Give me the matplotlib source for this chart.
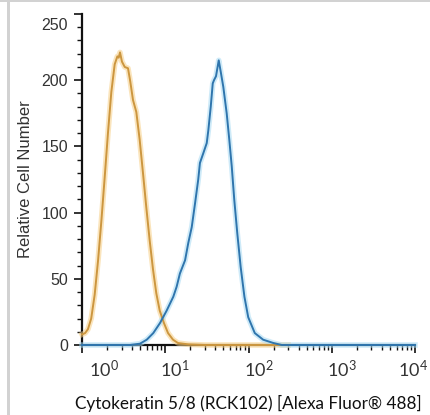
import numpy as np
import matplotlib
matplotlib.use("Agg")
import matplotlib.pyplot as plt
from matplotlib.ticker import FixedLocator, NullFormatter, FuncFormatter, LogLocator
from matplotlib.patches import Rectangle

# ---- data ----
orange_x = [1.00, 1.09, 1.18, 1.29, 1.42, 1.56, 1.71, 1.87, 2.05, 2.25, 2.47, 2.66, 2.76,
            2.86, 3.02, 3.26, 3.57, 3.80, 4.10, 4.49, 4.93, 5.40, 5.92, 6.50, 7.13, 7.81,
            8.58, 9.66, 10.8, 12.4, 14.2, 18.8, 30.0, 100.0, 300.0]
orange_y = [8, 9, 12, 20, 38, 64, 94, 126, 160, 191, 212, 218, 217,
            221, 214, 210, 209, 199, 185, 176, 155, 130, 104, 79, 57, 39,
            26, 16.5, 9, 4, 1.5, 0.5, 0, 0, 0]

blue_x = [1.0, 3.77, 4.33, 4.97, 5.99, 7.18, 8.65, 10.4, 12.5, 13.7, 15.0, 17.3, 18.9,
          20.8, 22.8, 24.9, 26.1, 28.7, 31.5, 32.9, 35.2, 37.2, 38.5, 40.7, 43.9, 46.5,
          49.8, 54.7, 58.8, 62.9, 67.5, 73.3, 80.5, 89.3, 99.2, 119.0, 150.0, 199.0,
          251.0, 10000.0]
blue_y = [0, 0, 0.5, 1, 4, 9, 16.6, 26, 36.5, 44, 54, 64, 77,
          89, 107, 125, 137.5, 145, 152.5, 162, 180, 197.6, 200, 203, 215, 206,
          195, 175, 155, 135, 109.5, 84.5, 59, 36.5, 21, 9, 4, 1.5,
          0, 0]

y_major = [0, 50, 100, 150, 200, 250]
y_minor = list(range(0, 251, 10))
x_major = [1, 10, 100, 1000, 10000]
x_labels = ["$10^{0}$", "$10^{1}$", "$10^{2}$", "$10^{3}$", "$10^{4}$"]
x_label_dx = [7, -5, -5, -5, -17]   # label nudges in pixels

xlabel = "Cytokeratin 5/8 (RCK102) [Alexa Fluor® 488]"
ylabel = "Relative Cell Number"

# ---- style ----
plt.rcParams['font.family'] = ['Lato', 'DejaVu Sans']
plt.rcParams['mathtext.default'] = 'regular'

DPI = 100
PT = 0.72  # points per pixel at 100 dpi
fig = plt.figure(figsize=(4.3, 4.15), dpi=DPI)
W, H = 430, 415

# light gray frame lines of the screenshot
fig.patches.append(Rectangle((0, 1 - 2.5 / H), 1, 2.5 / H, transform=fig.transFigure,
                             facecolor='#d2d2d2', edgecolor='none', zorder=0))
fig.patches.append(Rectangle((7 / W, 0), 3 / W, 1, transform=fig.transFigure,
                             facecolor='#d2d2d2', edgecolor='none', zorder=0))

ax = fig.add_axes([82 / W, 70 / H, 333 / W, 331 / H])
ax.set_xscale('log')
ax.set_xlim(1, 1e4)
ax.set_ylim(0, 250)

for s in ['top', 'right']:
    ax.spines[s].set_visible(False)
for s in ['left', 'bottom']:
    ax.spines[s].set_linewidth(1.6)
    ax.spines[s].set_color('#111111')

# curves with soft halo
ax.plot(orange_x, orange_y, color='#f7cf85', lw=4.0, alpha=0.55, clip_on=False, zorder=3,
        solid_joinstyle='round')
ax.plot(orange_x, orange_y, color='#cc963f', lw=1.4, clip_on=False, zorder=4,
        solid_joinstyle='round')
ax.plot(blue_x, blue_y, color='#a6daf3', lw=4.0, alpha=0.55, clip_on=False, zorder=3,
        solid_joinstyle='round')
ax.plot(blue_x, blue_y, color='#2f75ad', lw=1.4, clip_on=False, zorder=4,
        solid_joinstyle='round')

YFONT = ['Liberation Sans', 'DejaVu Sans']

# y ticks
ax.yaxis.set_major_locator(FixedLocator(y_major))
ax.yaxis.set_minor_locator(FixedLocator(y_minor))
ax.yaxis.set_major_formatter(FuncFormatter(lambda v, p: '' if v == 250 else f"{int(v)}"))
ax.tick_params(axis='y', which='major', length=6, width=1.2, pad=4, labelsize=11.5,
               color='#111111', labelcolor='#333333')
ax.tick_params(axis='y', which='minor', length=3.6, width=1.0, color='#111111')
for lab in ax.get_yticklabels():
    lab.set_family(YFONT)
ax.annotate("250", xy=(0, 250), xycoords=('axes fraction', 'data'),
            xytext=(-10, -8), textcoords='offset points',
            ha='right', va='center', fontsize=11.5, color='#333333',
            family=YFONT, annotation_clip=False)

# x ticks
ax.xaxis.set_major_locator(FixedLocator(x_major))
ax.xaxis.set_minor_locator(LogLocator(base=10, subs=np.arange(2, 10), numticks=20))
ax.xaxis.set_major_formatter(NullFormatter())
ax.xaxis.set_minor_formatter(NullFormatter())
ax.tick_params(axis='x', which='major', length=6, width=1.2, color='#111111')
ax.tick_params(axis='x', which='minor', length=3.6, width=1.0, color='#111111')
for v, lab, dx in zip(x_major, x_labels, x_label_dx):
    ax.annotate(lab, xy=(v, 0), xycoords=('data', 'axes fraction'),
                xytext=(dx * PT, -14 * PT), textcoords='offset points',
                ha='left', va='top', fontsize=13, color='#333333', annotation_clip=False)

ax.set_ylabel(ylabel, fontsize=12, family=YFONT, color='#333333', labelpad=6)
ax.set_xlabel(xlabel, fontsize=12.3, color='#111111', labelpad=26.5)

fig.savefig("out.png", dpi=DPI)
